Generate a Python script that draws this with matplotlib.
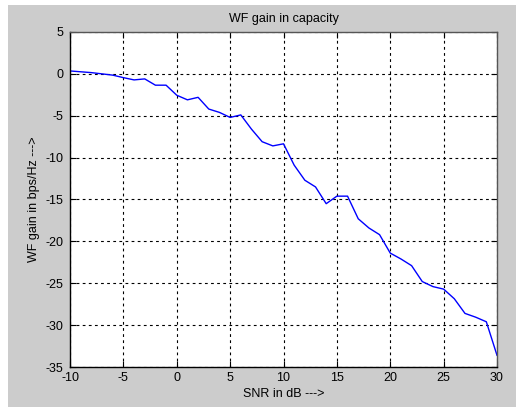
import numpy as np
import matplotlib.pyplot as plt
from matplotlib.patches import Rectangle

plt.rcParams['font.family'] = ['Liberation Sans', 'DejaVu Sans']
plt.rcParams['axes.unicode_minus'] = False

snr_db = list(range(-10, 31))
wf_gain = [0.35, 0.25, 0.15, 0.0, -0.15, -0.45, -0.72, -0.6, -1.35, -1.35,
           -2.55, -3.1, -2.8, -4.2, -4.6, -5.2, -4.9, -6.6, -8.1, -8.6,
           -8.35, -10.9, -12.7, -13.5, -15.5, -14.6, -14.6, -17.3, -18.4, -19.2,
           -21.4, -22.1, -22.9, -24.8, -25.4, -25.7, -26.85, -28.6, -29.05, -29.6,
           -33.6]

x_ticks = [-10, -5, 0, 5, 10, 15, 20, 25, 30]
y_ticks = [-35, -30, -25, -20, -15, -10, -5, 0, 5]

W, H = 516, 409
fig = plt.figure(figsize=(W/100, H/100), dpi=100)
fig.patch.set_facecolor('white')
# gray matlab-like figure area
fig.patches.append(Rectangle((8/W, 2/H), 1 - 8/W, (407 - 5)/H,
                             transform=fig.transFigure, facecolor='#cccccc',
                             edgecolor='none', zorder=-10))

ax = fig.add_axes([70/W, 1 - 367/H, (497 - 70)/W, (367 - 32)/H])
ax.set_facecolor('white')
ax.plot(snr_db, wf_gain, color='#0000ff', lw=1.0)

ax.set_xlim(-10, 30)
ax.set_ylim(-35, 5)
ax.set_xticks(x_ticks)
ax.set_yticks(y_ticks)
ax.tick_params(direction='in', length=4, top=True, right=True, labelsize=9,
               colors='black', width=0.8)
ax.tick_params(axis='y', pad=5)
ax.grid(True, color='black', linestyle=(0, (2.5, 3)), linewidth=0.8)

for s in ax.spines.values():
    s.set_linewidth(1.0)
    s.set_color('black')
ax.spines['top'].set_color('#555555')
ax.spines['right'].set_color('#555555')

ax.set_title('WF gain in capacity', fontsize=9, pad=7)
ax.set_xlabel('SNR in dB --->', fontsize=9, labelpad=3)
ax.set_ylabel('WF gain in bps/Hz --->', fontsize=9, labelpad=4)

fig.savefig('out.png', dpi=100, facecolor=fig.get_facecolor())
